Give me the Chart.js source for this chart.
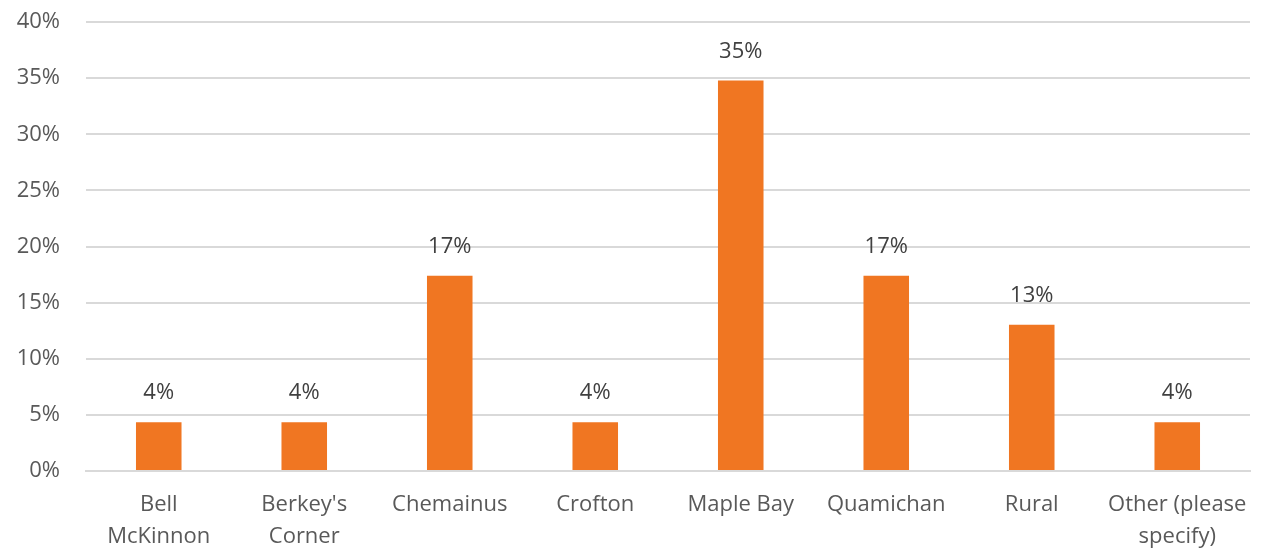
<!DOCTYPE html>
<html>
<head>
<meta charset="utf-8">
<script src="https://cdn.jsdelivr.net/npm/chart.js@4/dist/chart.umd.min.js"></script>
<style>
  html, body { margin: 0; padding: 0; background: #fff; }
  #wrap { width: 1266px; height: 549px; position: relative; }
</style>
</head>
<body>
<div id="wrap"><canvas id="chart"></canvas></div>
<script>
let categories = [["Bell", "McKinnon"], ["Berkey's", "Corner"], "Chemainus", "Crofton", "Maple Bay", "Quamichan", "Rural", ["Other (please", "specify)"]];
let shares = [4.35, 4.35, 17.39, 4.35, 34.78, 17.39, 13.04, 4.35];
let yTicks = [0, 5, 10, 15, 20, 25, 30, 35, 40];

const FONT = "'Open Sans', Lato, sans-serif";
Chart.defaults.font.family = FONT;

// value labels above each bar
const barLabels = {
    id: 'barLabels',
    afterDatasetsDraw(chart) {
        let c = chart.ctx;
        let meta = chart.getDatasetMeta(0);
        c.save();
        c.font = "22px " + FONT;
        c.fillStyle = '#404040';
        c.textAlign = 'center';
        c.textBaseline = 'middle';
        meta.data.forEach((bar, i) => {
            c.fillText(Math.round(shares[i]) + '%', bar.x, bar.y - 29);
        });
        c.restore();
    }
};

let ctx = document.getElementById('chart').getContext('2d');
let chart = new Chart(ctx, {
    type: 'bar',
    data: {
        labels: categories,
        datasets: [{
            data: shares,
            backgroundColor: '#F07622',
            barPercentage: 0.313,
            categoryPercentage: 1
        }]
    },
    options: {
        responsive: true,
        maintainAspectRatio: false,
        animation: false,
        layout: { padding: { top: 0, right: 16, bottom: 0, left: 0 } },
        plugins: { legend: { display: false }, tooltip: { enabled: false } },
        scales: {
            x: {
                afterFit: s => { s.height = 78; s.paddingLeft = 0; s.paddingRight = 0; },
                grid: { display: false, drawTicks: false },
                border: { display: true, color: '#d9d9d9', width: 2 },
                ticks: { color: '#595959', font: { size: 22, lineHeight: 1.45 }, padding: 18, maxRotation: 0, autoSkip: false }
            },
            y: {
                min: 0, max: 40,
                afterBuildTicks: s => { s.ticks = yTicks.map(v => ({ value: v })); },
                afterFit: s => { s.width = 86; s.paddingTop = 22; s.paddingBottom = 0; },
                grid: { color: '#d9d9d9', lineWidth: 2, drawTicks: false },
                border: { display: false },
                ticks: { color: '#595959', font: { size: 22 }, padding: 26, callback: v => v + '%' }
            }
        }
    },
    plugins: [barLabels]
});
</script>
</body>
</html>
